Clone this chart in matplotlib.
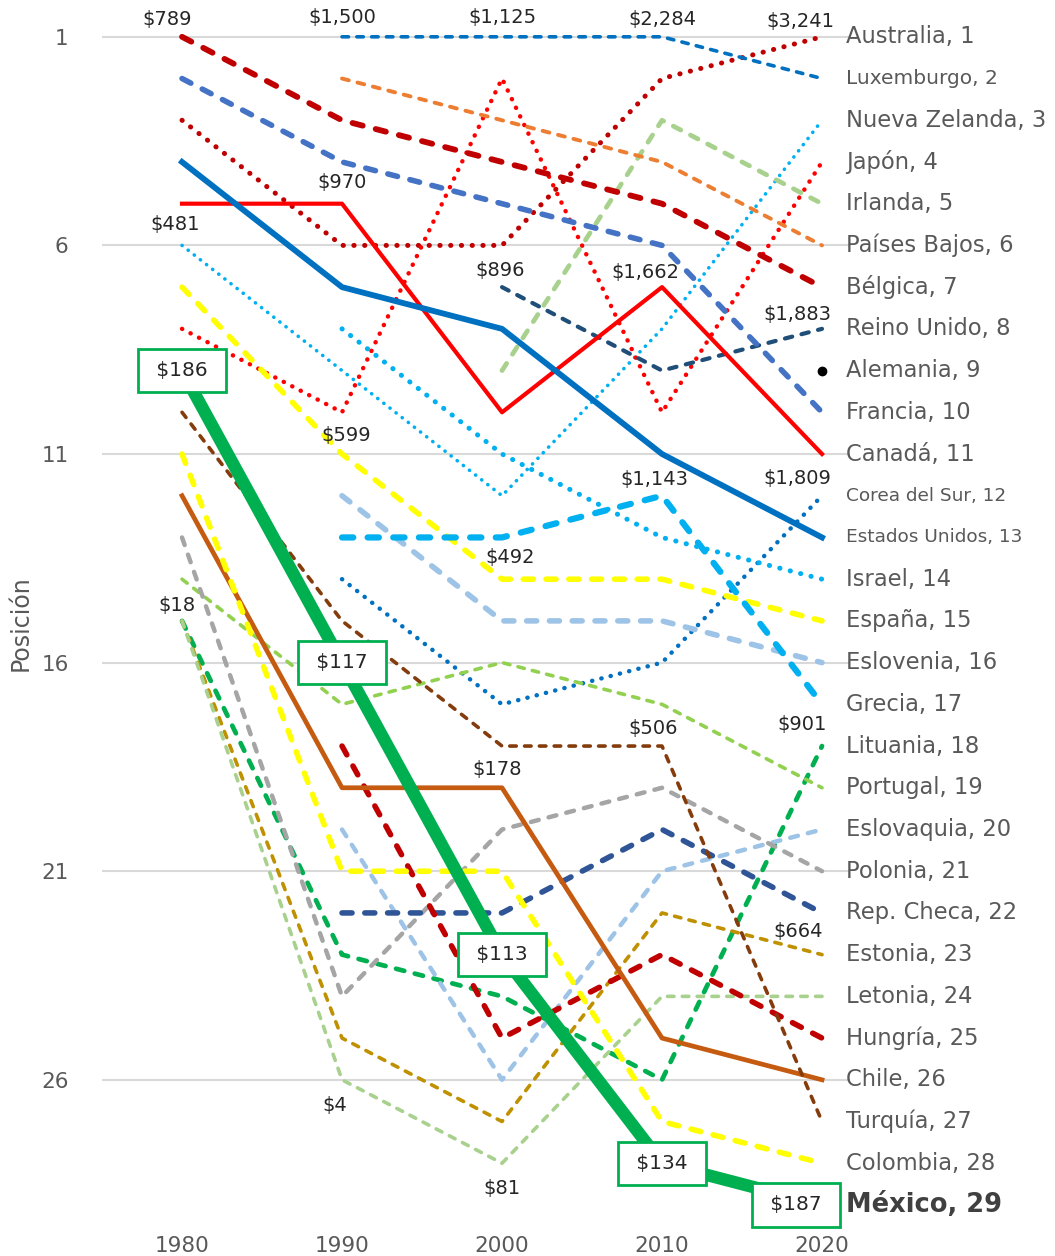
import numpy as np
import matplotlib
matplotlib.use("Agg")
import matplotlib.pyplot as plt

nan = np.nan
years = [1980, 1990, 2000, 2010, 2020]

countries = ["Australia", "Luxemburgo", "Nueva Zelanda", "Japón", "Irlanda", "Países Bajos",
             "Bélgica", "Reino Unido", "Alemania", "Francia", "Canadá", "Corea del Sur",
             "Estados Unidos", "Israel", "España", "Eslovenia", "Grecia", "Lituania",
             "Portugal", "Eslovaquia", "Polonia", "Rep. Checa", "Estonia", "Letonia",
             "Hungría", "Chile", "Turquía", "Colombia", "México"]

# posición de cada país en cada año (mismo orden que countries)
rank_1980 = [3, nan, 6, 8, nan, nan, 1, nan, nan, 2, 5, nan, 4, nan, 7, nan, nan, 15,
             14, nan, 13, nan, 15, 15, nan, 12, 10, 11, 9]
rank_1990 = [6, 1, 9, 10, nan, 2, 3, nan, nan, 4, 5, 14, 7, 8, 11, 12, 13, 23,
             17, 20, 24, 22, 25, 26, 18, 19, 15, 21, 16]
rank_2000 = [6, 1, 12, 2, 9, 3, 4, 7, nan, 5, 10, 17, 8, 11, 14, 15, 13, 24,
             16, 26, 20, 22, 27, 28, 25, 19, 18, 21, 23]
rank_2010 = [2, 1, 8, 10, 3, 4, 5, 9, nan, 6, 7, 16, 11, 13, 14, 15, 12, 26,
             17, 21, 19, 20, 22, 24, 23, 25, 18, 27, 28]
rank_2020 = list(range(1, 30))

mexico_values = ["$186", "$117", "$113", "$134", "$187"]

# etiquetas de valor: (país, año, texto)
value_labels = [("Bélgica", 1980, "$789"), ("Luxemburgo", 1990, "$1,500"),
                ("Luxemburgo", 2000, "$1,125"), ("Luxemburgo", 2010, "$2,284"),
                ("Australia", 2020, "$3,241"), ("Canadá", 1990, "$970"),
                ("Nueva Zelanda", 1980, "$481"), ("Reino Unido", 2000, "$896"),
                ("Canadá", 2010, "$1,662"), ("Reino Unido", 2020, "$1,883"),
                ("Japón", 1990, "$599"), ("Grecia", 2010, "$1,143"),
                ("Corea del Sur", 2020, "$1,809"), ("Grecia", 2000, "$492"),
                ("Lituania", 1980, "$18"), ("Turquía", 2010, "$506"),
                ("Lituania", 2020, "$901"), ("Chile", 2000, "$178"),
                ("Estonia", 2020, "$664"), ("Letonia", 1990, "$4"),
                ("Letonia", 2000, "$81")]
label_offsets = [(-15, 17), (0, 19), (0, 19), (0, 17), (-22, 15), (0, 21), (-7, 21),
                 (-2, 17), (-17, 15), (-25, 14), (4, -23), (-8, 16), (-25, 17),
                 (8, -20), (-5, 15), (-9, 18), (-20, 22), (-5, 18), (-24, 23),
                 (-7, -26), (0, -25)]

colors = ["#C00000", "#0070C0", "#00B0F0", "#FF0000", "#A9D18E", "#ED7D31",
          "#C00000", "#1F4E79", "#000000", "#4472C4", "#FF0000", "#0070C0",
          "#0070C0", "#00B0F0", "#FFFF00", "#9DC3E6", "#00B0F0", "#00B050",
          "#92D050", "#9DC3E6", "#A5A5A5", "#2F5597", "#BF9000", "#A9D18E",
          "#C00000", "#C55A11", "#843C0C", "#FFFF00", "#00B050"]
styles = ["dot", "dash", "dot", "dot", "dash", "dash", "dash", "dash", "point", "dash",
          "solid", "dot", "solid", "dot", "dash", "dash", "dash", "dash", "dash", "dash",
          "dash", "dash", "dash", "dash", "dash", "solid", "dash", "dash", "solid"]
widths = [3.6, 2.6, 2.6, 3.2, 3.4, 2.8, 4.2, 3.0, 0, 4.0, 3.0, 3.2, 4.2, 3.6, 4.0,
          4.0, 4.5, 3.4, 2.6, 3.2, 3.2, 4.0, 2.6, 2.6, 4.0, 3.4, 2.6, 4.0, 9.0]

fig = plt.figure(figsize=(10.55, 12.56), dpi=100)
ax = fig.add_axes([0.0967, 0.0207, 0.709, 0.9666])

ranks = np.array([rank_1980, rank_1990, rank_2000, rank_2010, rank_2020], dtype=float).T

for i, name in enumerate(countries):
    r = ranks[i]
    st = styles[i]
    if st == "point":
        ax.plot(years, r, "o", color=colors[i], ms=6, zorder=3)
    elif st == "dot":
        ax.plot(years, r, color=colors[i], lw=widths[i], linestyle=(0, (0.05, 2.1)),
                dash_capstyle="round", zorder=2)
    elif st == "dash":
        ax.plot(years, r, color=colors[i], lw=widths[i], linestyle=(0, (1.8, 2.3)),
                dash_capstyle="round", solid_joinstyle="round", zorder=2)
    else:
        ax.plot(years, r, color=colors[i], lw=widths[i], solid_joinstyle="round",
                zorder=4 if name == "México" else 2)

# etiquetas de países a la derecha
for i, name in enumerate(countries):
    txt = name + ", " + str(rank_2020[i])
    if name == "México":
        ax.text(2021.5, rank_2020[i], txt, fontsize=18.5, fontweight="bold",
                color="#404040", va="center", ha="left", clip_on=False)
    else:
        fs = 16.3
        if name == "Luxemburgo":
            fs = 14.5
        if name in ("Corea del Sur", "Estados Unidos"):
            fs = 13.3
        ax.text(2021.5, rank_2020[i], txt, fontsize=fs, color="#595959",
                va="center", ha="left", clip_on=False)

# valores
for (name, yr, txt), (dx, dy) in zip(value_labels, label_offsets):
    r = ranks[countries.index(name)][years.index(yr)]
    ax.annotate(txt, xy=(yr, r), xytext=(dx, dy), textcoords="offset pixels",
                ha="center", va="center", fontsize=14, color="#262626", zorder=5,
                annotation_clip=False)

# cajas de México
mex = ranks[countries.index("México")]
for j, yr in enumerate(years):
    dx = -26 if yr == 2020 else 0
    ax.annotate(" " + mexico_values[j] + " ", xy=(yr, mex[j]), xytext=(dx, 0),
                textcoords="offset pixels", ha="center", va="center", fontsize=14.5,
                color="#262626", zorder=6, annotation_clip=False,
                bbox=dict(boxstyle="square,pad=0.6", fc="white", ec="#00B050", lw=2.0))

ax.set_xlim(1975, 2021.75)
ax.set_ylim(29.6, 0.5)
ax.set_yticks([1, 6, 11, 16, 21, 26])
ax.set_xticks(years)
ax.tick_params(length=0, labelsize=15.5, labelcolor="#595959")
ax.tick_params(axis="y", pad=24)
ax.tick_params(axis="x", pad=4)
ax.grid(axis="y", color="#D9D9D9", lw=1.5)
ax.set_axisbelow(True)
for s in ax.spines.values():
    s.set_visible(False)
ax.set_ylabel("Posición", fontsize=17, color="#595959", labelpad=6)

fig.savefig("out.png", dpi=100)
